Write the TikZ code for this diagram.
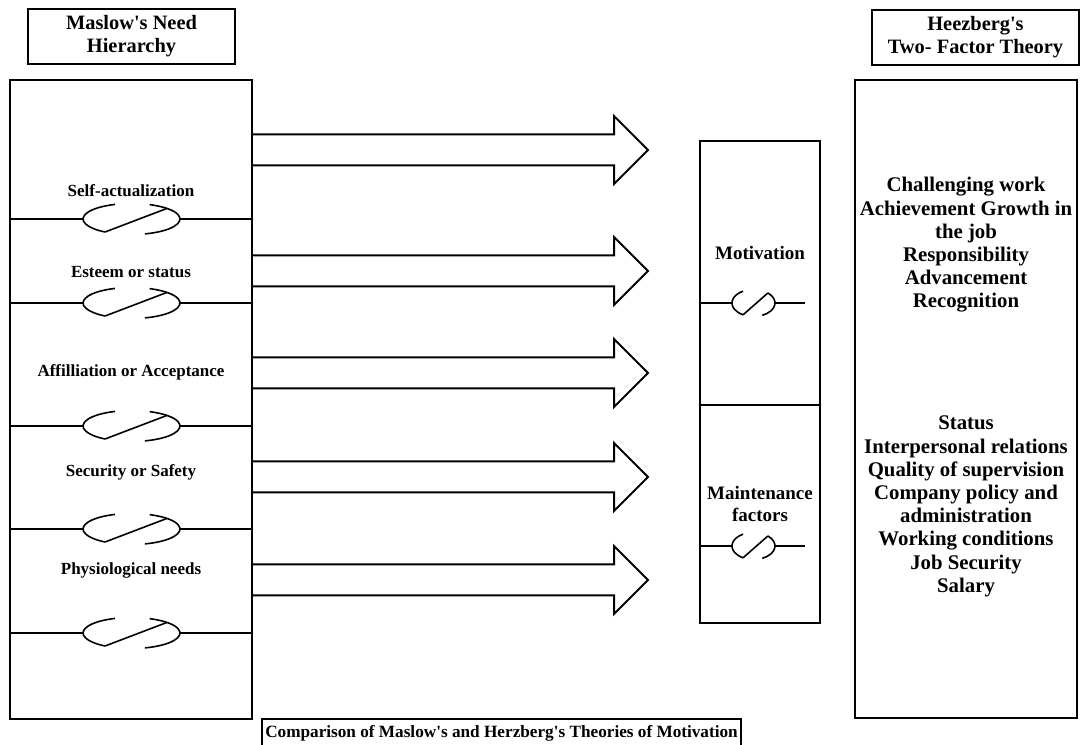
\documentclass[tikz,border=0pt]{standalone}
\usepackage{fontspec}
\setmainfont{Liberation Serif}
\usetikzlibrary{positioning}

\tikzset{
  brk/.pic={
    \draw (110:1) arc[start angle=110, end angle=237, radius=1];
    \draw (-74:1) arc[start angle=-74, end angle=68, radius=1];
    \draw (237:1) -- (43:1);
  },
  brksmall/.pic={
    \draw (119:1) arc[start angle=119, end angle=241, radius=1];
    \draw (-66:1) arc[start angle=-66, end angle=48, radius=1];
    \draw (241:1) -- (48:1);
  }
}

\begin{document}
\begin{tikzpicture}[x=0.5pt, y=0.5pt,
    box/.style={draw, line width=1pt, inner sep=0pt},
    title/.style={draw, line width=1pt, align=center, font=\fontsize{10.2}{11.5}\selectfont\bfseries},
    need/.style={font=\fontsize{8.5}{10}\selectfont\bfseries},
    mid/.style={align=center, font=\fontsize{9.5}{11}\selectfont\bfseries},
    factor/.style={align=center, font=\fontsize{10.4}{11.6}\selectfont\bfseries},
    link/.style={line width=1pt}]
  \useasboundingbox (0,0) rectangle (1086,744);

  % titles
  \node[title, minimum width=103.5pt, minimum height=25.5pt] (maslowtitle) at (131.5,707.5) {Maslow\textquotesingle s Need\\Hierarchy};
  \node[title, minimum width=103.5pt, minimum height=25.5pt] (herztitle) at (975.5,706.5) {Heezberg\textquotesingle s\\Two- Factor Theory};

  % the three columns
  \node[box, minimum width=121pt, minimum height=319.5pt] (maslow) at (131,344.5) {};
  \node[box, minimum width=60pt, minimum height=241pt] (middle) at (760,362) {};
  \node[box, minimum width=111pt, minimum height=319pt] (herz) at (966,345) {};
  \draw[line width=1pt] (middle.west |- 0,339) -- (middle.east |- 0,339);

  % needs and their breaks
  \foreach \y/\t in {553/Self-actualization, 472/Esteem or status, 372/Affilliation or Acceptance, 272/Security or Safety, 174/Physiological needs}
    \node[need] at (131,\y) {\t};
  \foreach \y in {525,441,318,215,111} {
    \draw[link] (maslow.west |- 0,\y) -- (83,\y);
    \pic[xscale=48.5, yscale=15.5, line width=0.8pt] at (131.5,\y) {brk};
    \draw[link] (180,\y) -- (maslow.east |- 0,\y);
  }

  % block arrows
  \foreach \y in {594,473,371,267,164}
    \draw[link] (252,\y+15.5) -- (614,\y+15.5) -- (614,\y+34) -- (648,\y)
      -- (614,\y-34) -- (614,\y-15.5) -- (252,\y-15.5);

  % middle column
  \node[mid] (motiv) at (760,491) {Motivation};
  \node[mid] (maint) at (760,240) {Maintenance\\factors};
  \foreach \y in {441,198} {
    \draw[line width=0.8pt] (middle.west |- 0,\y) -- (732,\y);
    \pic[xscale=21.5, yscale=13.5, line width=0.8pt] at (753.5,\y) {brksmall};
    \draw[line width=0.8pt] (775,\y) -- (805,\y);
  }

  % two factors
  \node[factor] (motivators) at (966,499) {Challenging work\\Achievement Growth in\\the job\\Responsibility\\Advancement\\Recognition};
  \node[factor] (hygiene) at (966,237.5) {Status\\Interpersonal relations\\Quality of supervision\\Company policy and\\administration\\Working conditions\\Job Security\\Salary};

  % caption
  \node[title, inner sep=1pt, minimum width=239.5pt, minimum height=14.5pt, font=\fontsize{8.6}{10}\selectfont\bfseries] (caption) at (501.5,10.5) {Comparison of Maslow\textquotesingle s and Herzberg\textquotesingle s Theories of Motivation};
\end{tikzpicture}
\end{document}
